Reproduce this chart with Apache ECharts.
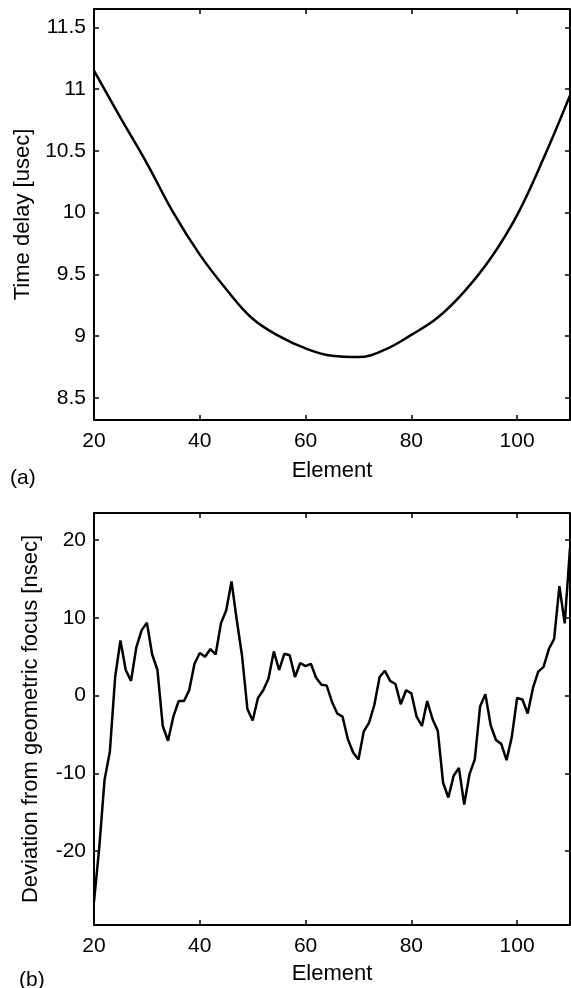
<!DOCTYPE html>
<html>
<head>
<meta charset="utf-8">
<script src="https://cdn.jsdelivr.net/npm/echarts@6/dist/echarts.min.js"></script>
<style>
  html, body { margin: 0; padding: 0; background: #fff; }
  #chart { width: 571px; height: 988px; }
</style>
</head>
<body>
<div id="chart"></div>
<script>
// (a) time delay per element, every 5 elements
var delayElements = [20, 25, 30, 35, 40, 45, 50, 55, 60, 65, 70, 75, 80, 85, 90, 95, 100, 105, 110];
var delayUsec = [11.15, 10.77, 10.40, 10.00, 9.66, 9.38, 9.14, 9.00, 8.90, 8.84, 8.83, 8.89, 9.01, 9.15, 9.36, 9.63, 9.98, 10.44, 10.95];

// (b) deviation from geometric focus, elements 20..110
var devElements = [];
for (var e = 20; e <= 110; e++) devElements.push(e);
var devNsec = [
  -26.5, -19.5, -10.8, -7.2, 2.4, 7.1, 3.3, 1.9, 6.2, 8.4,
  9.4, 5.3, 3.3, -3.9, -5.8, -2.7, -0.7, -0.7, 0.7, 4.1,
  5.5, 5.0, 6.0, 5.3, 9.3, 11.0, 14.7, 9.7, 5.1, -1.7,
  -3.2, -0.3, 0.7, 2.2, 5.7, 3.3, 5.4, 5.2, 2.4, 4.2,
  3.8, 4.1, 2.3, 1.4, 1.3, -0.8, -2.3, -2.7, -5.6, -7.3,
  -8.2, -4.6, -3.5, -1.2, 2.4, 3.2, 1.9, 1.5, -1.1, 0.7,
  0.3, -2.7, -3.9, -0.7, -3.0, -4.5, -11.2, -13.1, -10.3, -9.3,
  -14.0, -10.1, -8.2, -1.4, 0.2, -3.8, -5.7, -6.2, -8.3, -5.3,
  -0.3, -0.5, -2.3, 1.0, 3.1, 3.7, 6.0, 7.3, 14.1, 9.3,
  19.0
];

var xTicks = [20, 40, 60, 80, 100];
var yTicksA = [8.5, 9, 9.5, 10, 10.5, 11, 11.5];
var yTicksB = [-20, -10, 0, 10, 20];

function pairs(xs, ys) {
  var out = [];
  for (var i = 0; i < xs.length; i++) out.push([xs[i], ys[i]]);
  return out;
}

var font = 'Liberation Sans, Arial, Helvetica, sans-serif';
var fs = 21;
var nameFs = 22;

function frameAxis(grid, pos, min, max, ticks, showLabel, name, gap) {
  var ax = {
    type: 'value',
    gridIndex: grid,
    position: pos,
    min: min,
    max: max,
    splitLine: { show: false },
    axisLine: { show: true, onZero: false, lineStyle: { color: '#000', width: 2 } },
    axisTick: { show: true, inside: true, length: 5, customValues: ticks, lineStyle: { color: '#000', width: 1.5 } },
    axisLabel: { show: showLabel, customValues: ticks, color: '#000', fontFamily: font, fontSize: fs, margin: pos == 'bottom' ? 11 : 8 }
  };
  if (name) {
    ax.name = name;
    ax.nameLocation = 'middle';
    ax.nameGap = gap;
    ax.nameTextStyle = { color: '#000', fontFamily: font, fontSize: nameFs };
  }
  return ax;
}

var chart = echarts.init(document.getElementById('chart'), null, { renderer: 'canvas' });

var option = {
  animation: false,
  backgroundColor: '#fff',
  title: [
    { text: '(a)', left: 5, top: 463, textStyle: { color: '#000', fontFamily: font, fontSize: fs, fontWeight: 'normal' } },
    { text: '(b)', left: 14, top: 965, textStyle: { color: '#000', fontFamily: font, fontSize: fs, fontWeight: 'normal' } }
  ],
  grid: [
    { left: 94, top: 9, width: 476, height: 411 },
    { left: 94, top: 513, width: 476, height: 412 }
  ],
  xAxis: [
    frameAxis(0, 'bottom', 20, 110, xTicks, true, 'Element', 40),
    frameAxis(0, 'top', 20, 110, xTicks, false),
    frameAxis(1, 'bottom', 20, 110, xTicks, true, 'Element', 38),
    frameAxis(1, 'top', 20, 110, xTicks, false)
  ],
  yAxis: [
    frameAxis(0, 'left', 8.32, 11.65, yTicksA, true, 'Time delay [usec]', 60),
    frameAxis(0, 'right', 8.32, 11.65, yTicksA, false),
    frameAxis(1, 'left', -29.5, 23.5, yTicksB, true, 'Deviation from geometric focus [nsec]', 52),
    frameAxis(1, 'right', -29.5, 23.5, yTicksB, false)
  ],
  series: [
    {
      type: 'line',
      xAxisIndex: 0,
      yAxisIndex: 0,
      data: pairs(delayElements, delayUsec),
      smooth: 0.4,
      showSymbol: false,
      lineStyle: { color: '#000', width: 2.5 }
    },
    {
      type: 'line',
      xAxisIndex: 2,
      yAxisIndex: 2,
      data: pairs(devElements, devNsec),
      showSymbol: false,
      lineStyle: { color: '#000', width: 2.5 }
    }
  ]
};

chart.setOption(option);
</script>
</body>
</html>
